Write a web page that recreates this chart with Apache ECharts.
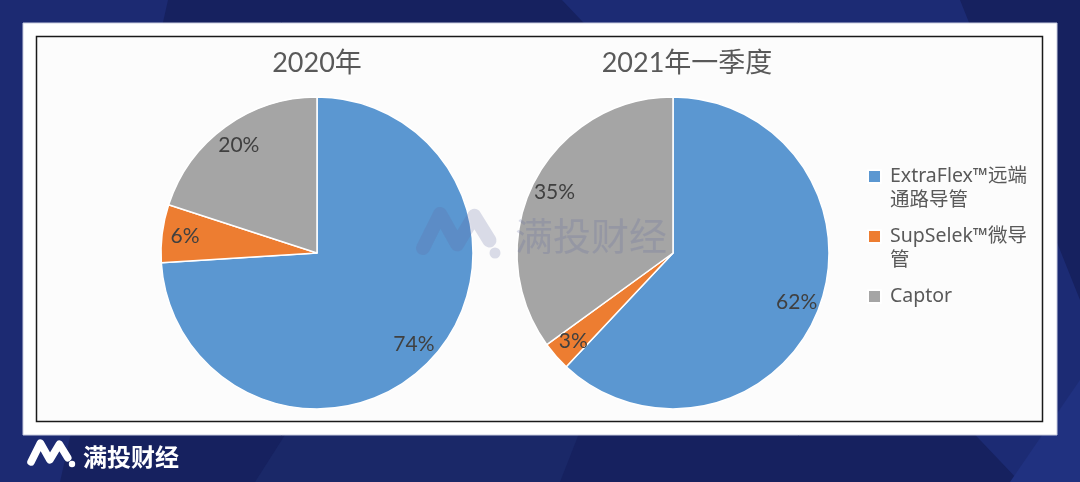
<!DOCTYPE html>
<html>
<head>
<meta charset="utf-8">
<script src="https://cdn.jsdelivr.net/npm/echarts@6/dist/echarts.min.js"></script>
<style>
html,body{margin:0;padding:0;background:#16215f;}
#c{width:1080px;height:482px;}
</style>
</head>
<body>
<div id="c"></div>
<script>
// ---- data ----
const categories = ['ExtraFlex™远端\n通路导管', 'SupSelek™微导\n管', 'Captor'];
const share2020 = [74, 6, 20];
const share2021Q1 = [62, 3, 35];
const pieTitles = ['2020年', '2021年一季度'];
const colors = ['#5b97d1', '#ed7d31', '#a5a5a5'];
const brand = '满投财经';

const chart = echarts.init(document.getElementById('c'), null, {renderer: 'canvas'});

const FONT = 'Lato, "Noto Sans CJK SC", sans-serif';
const LFONT = '"Noto Sans", "Noto Sans CJK SC", sans-serif';
const R = 156;
const centers = [[317, 253], [673, 253]];
const datasets = [share2020, share2021Q1];

function toData(vals) {
  return categories.map((n, i) => ({name: n, value: vals[i]}));
}

const series = [];
datasets.forEach((vals, k) => {
  series.push({
    type: 'pie', center: centers[k], radius: [0, R], startAngle: 90, clockwise: true,
    data: toData(vals), label: {show: false}, labelLine: {show: false},
    itemStyle: {borderColor: '#ffffff', borderWidth: 1.5},
    emphasis: {disabled: true}, silent: true, animation: false, z: 2
  });
});
datasets.forEach((vals, k) => {
  series.push({
    type: 'pie', center: centers[k], radius: [104, R], startAngle: 90, clockwise: true,
    data: toData(vals),
    itemStyle: {color: 'rgba(0,0,0,0)', borderWidth: 0},
    label: {show: true, position: 'inside', formatter: '{c}%', color: '#404040',
            fontSize: 21, fontFamily: FONT},
    labelLine: {show: false},
    emphasis: {disabled: true}, silent: true, animation: false, z: 3
  });
});

const legendIcon = 'path://M0,6L13,6L13,19L0,19Z M0,0 M17,48';

const logoPts = (ox, oy, s) => [[0,19],[9,1],[18,17],[27,2],[35,15]].map(p => [ox + p[0]*s, oy + p[1]*s]);

const option = {
  animation: false,
  color: colors,
  legend: {
    orient: 'vertical', left: 867, top: 163, itemGap: 10, padding: 0,
    itemWidth: 17, itemHeight: 48, icon: legendIcon,
    data: categories,
    formatter: n => n.indexOf('\n') >= 0 ? n : n + '\n ',
    textStyle: {color: '#595959', fontSize: 19.5, lineHeight: 24, fontFamily: LFONT},
    selectedMode: false
  },
  graphic: [
    // background stripes
    {type: 'polygon', z: -10, silent: true, shape: {points: [[0,0],[168,0],[60,482],[0,482]]}, style: {fill: '#1c2a72'}},
    {type: 'polygon', z: -10, silent: true, shape: {points: [[562,0],[960,0],[1080,300],[1080,482],[1020,482]]}, style: {fill: '#1c2b74'}},
    {type: 'polygon', z: -10, silent: true, shape: {points: [[1080,380],[1080,482],[1010,482]]}, style: {fill: '#203180'}},
    {type: 'polygon', z: -10, silent: true, shape: {points: [[255,482],[320,380],[600,380],[560,482]]}, style: {fill: '#1a2868'}},
    // panel
    {type: 'rect', z: -5, silent: true, shape: {x: 23, y: 23, width: 1034, height: 412}, style: {fill: '#ffffff', stroke: '#c9cde0', lineWidth: 1}},
    {type: 'rect', z: -4, silent: true, shape: {x: 36.5, y: 36.5, width: 1006, height: 385}, style: {fill: '#fcfcfc', stroke: '#1a1a1a', lineWidth: 1.5}},
    // pie titles
    {type: 'text', z: 5, silent: true, x: 317, y: 63, style: {text: pieTitles[0], fill: '#595959', font: '27px ' + FONT, align: 'center', verticalAlign: 'middle'}},
    {type: 'text', z: 5, silent: true, x: 687, y: 63, style: {text: pieTitles[1], fill: '#595959', font: '27px ' + FONT, align: 'center', verticalAlign: 'middle'}},
    // watermark
    {type: 'polyline', z: 50, silent: true, shape: {points: logoPts(423, 212, 1.9)}, style: {stroke: 'rgba(95,105,160,0.22)', lineWidth: 14, lineCap: 'round', lineJoin: 'round', fill: null}},
    {type: 'circle', z: 50, silent: true, shape: {cx: 495, cy: 253, r: 5.5}, style: {fill: 'rgba(95,105,160,0.22)'}},
    {type: 'text', z: 50, silent: true, x: 515, y: 236, style: {text: brand, fill: 'rgba(95,105,160,0.22)', font: '38px "Noto Sans CJK SC"', align: 'left', verticalAlign: 'middle'}},
    // bottom-left logo
    {type: 'polyline', z: 5, silent: true, shape: {points: logoPts(31, 442, 1.05)}, style: {stroke: '#ffffff', lineWidth: 7.5, lineCap: 'round', lineJoin: 'round', fill: null}},
    {type: 'circle', z: 5, silent: true, shape: {cx: 72, cy: 464, r: 3.2}, style: {fill: '#ffffff'}},
    {type: 'text', z: 5, silent: true, x: 83, y: 457, style: {text: brand, fill: '#ffffff', font: 'bold 24px "Noto Sans CJK SC"', align: 'left', verticalAlign: 'middle'}}
  ],
  series: series
};
chart.setOption(option);
</script>
</body>
</html>
